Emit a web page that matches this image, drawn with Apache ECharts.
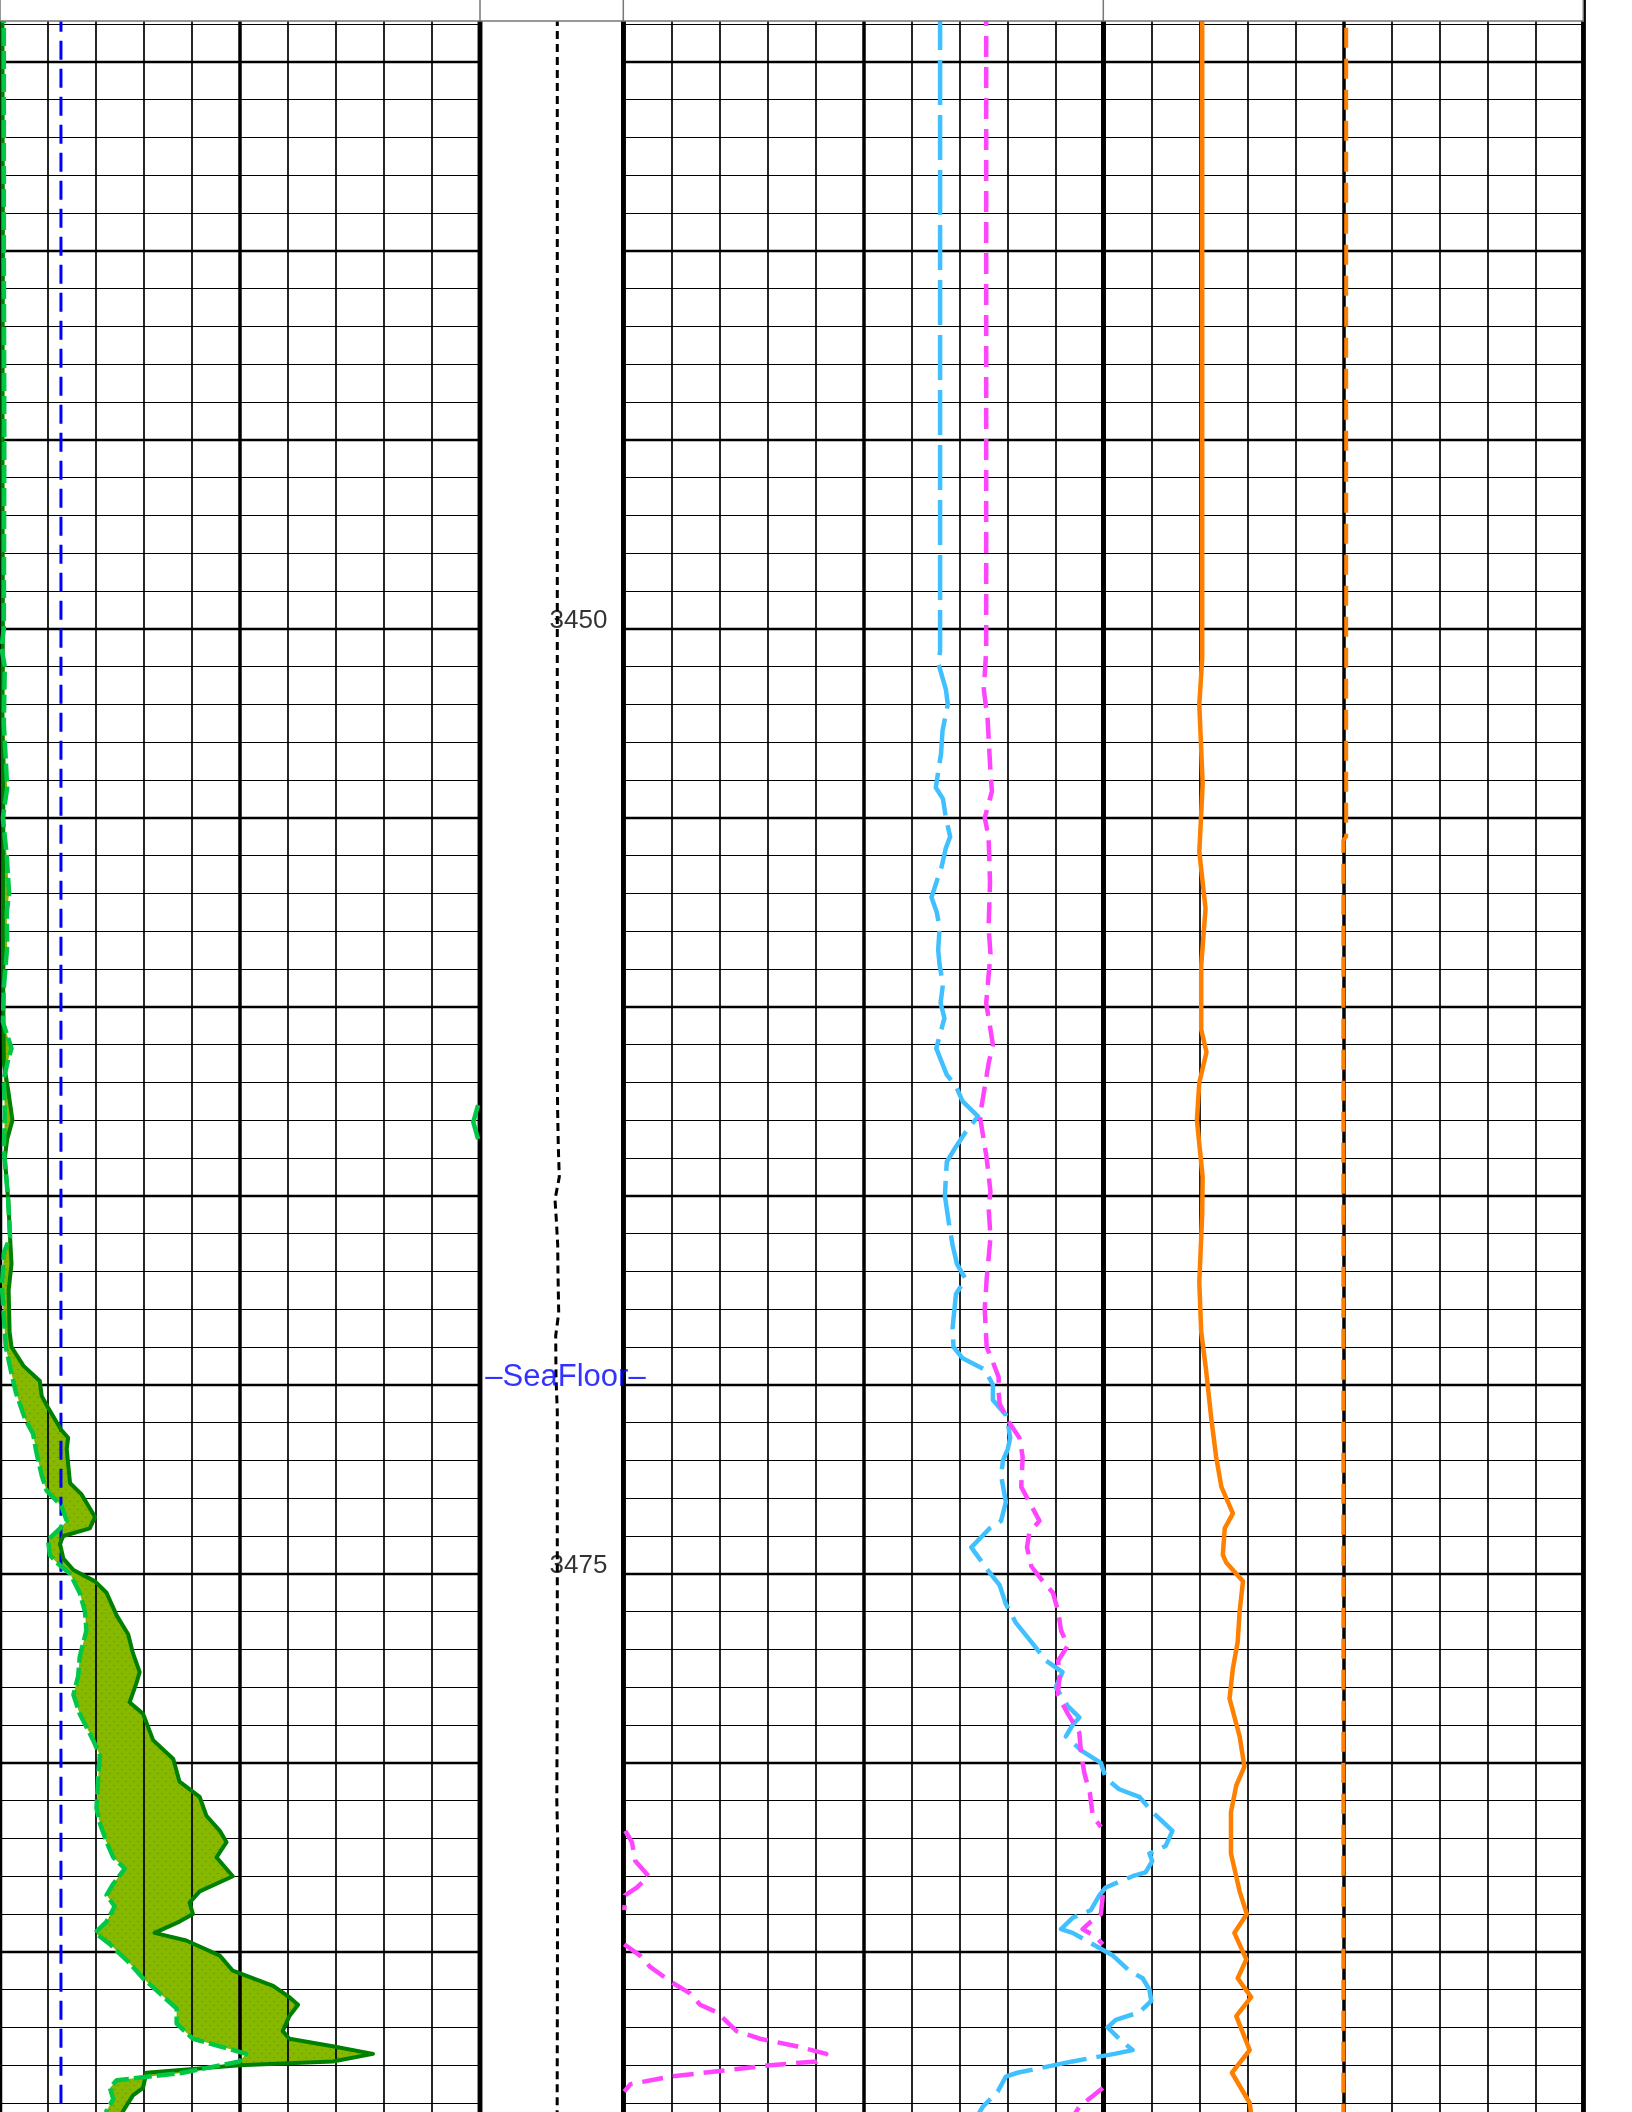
<!DOCTYPE html>
<html><head><meta charset="utf-8">
<style>html,body{margin:0;padding:0;background:#fff;}#chart{width:1632px;height:2112px;}</style>
<script src="https://cdn.jsdelivr.net/npm/echarts@6/dist/echarts.min.js"></script>
</head><body><div id="chart"></div>
<script>
// ---- depth range / labels ----
const DEPTH_MIN = 3430, DEPTH_MAX = 3490;
const depthLabels = [3450, 3475];
const seaFloorDepth = 3469.8;
const seaFloorText = '\u2013SeaFloor\u2013';
const depthHeaderScale = ['10000', '0'];

// ---- track 1 curves: [value, depth] ----
const darkGreenCurve = [[0.05,3433.5],[0.06,3440],[0.05,3445],[0.06,3450],[0.05,3452],[0.07,3455],[0.06,3458],[0.07,3460],[0.08,3461.5],[0.17,3462.2],[0.26,3463.0],[0.15,3463.5],[0.10,3464.0],[0.17,3465.1],[0.21,3466.1],[0.24,3466.8],[0.18,3467.5],[0.20,3468.6],[0.24,3469.0],[0.49,3469.5],[0.83,3469.9],[0.87,3470.3],[1.00,3470.6],[1.28,3471.2],[1.42,3471.4],[1.39,3471.7],[1.42,3472.1],[1.46,3472.6],[1.70,3472.9],[1.98,3473.5],[1.87,3473.8],[1.32,3474.0],[1.25,3474.2],[1.32,3474.6],[1.53,3474.9],[1.98,3475.2],[2.22,3475.5],[2.43,3476.1],[2.67,3476.6],[2.77,3477.1],[2.91,3477.6],[2.84,3477.9],[2.70,3478.4],[2.98,3478.7],[3.19,3479.4],[3.61,3479.9],[3.74,3480.5],[4.16,3480.9],[4.30,3481.4],[4.58,3481.8],[4.72,3482.1],[4.51,3482.5],[4.85,3483.0],[4.16,3483.4],[3.95,3483.7],[4.02,3484.0],[3.74,3484.2],[3.22,3484.5],[3.88,3484.7],[4.58,3485.1],[4.85,3485.5],[5.69,3485.9],[6.03,3486.2],[6.21,3486.4],[6.03,3486.7],[5.89,3487.1],[6.03,3487.3],[6.93,3487.5],[7.77,3487.7],[6.93,3487.9],[4.99,3488.0],[3.05,3488.2],[2.98,3488.6],[2.77,3488.8],[2.57,3489.2],[2.45,3489.5]];
const lightGreenCurve = [[0.08,3433.5],[0.08,3440],[0.09,3445],[0.08,3450],[0.03,3450.5],[0.10,3451],[0.08,3452.5],[0.15,3454.2],[0.06,3455],[0.14,3456],[0.19,3457],[0.14,3457.5],[0.15,3458.4],[0.08,3459.5],[0.06,3460.4],[0.24,3461.1],[0.17,3461.4],[0.08,3461.9],[0.10,3462.8],[0.08,3463.8],[0.17,3465.1],[0.21,3466.1],[0.08,3466.5],[0.04,3467.4],[0.07,3468.0],[0.10,3468.6],[0.12,3469.0],[0.24,3469.7],[0.33,3470.2],[0.52,3470.9],[0.69,3471.3],[0.76,3471.8],[0.87,3472.4],[0.97,3472.8],[1.28,3473.2],[1.39,3473.6],[1.25,3473.8],[1.00,3474.1],[1.04,3474.5],[1.18,3474.7],[1.46,3475.0],[1.66,3475.5],[1.77,3476.0],[1.80,3476.5],[1.66,3477.2],[1.63,3477.7],[1.53,3478.2],[1.66,3478.7],[1.94,3479.4],[2.08,3479.8],[2.05,3480.3],[2.01,3481.2],[2.08,3481.6],[2.22,3482.1],[2.36,3482.5],[2.60,3482.8],[2.36,3483.2],[2.22,3483.5],[2.39,3483.8],[2.22,3484.2],[1.98,3484.5],[2.29,3484.8],[2.70,3485.3],[2.98,3485.7],[3.33,3486.1],[3.68,3486.5],[3.68,3486.9],[4.02,3487.3],[4.58,3487.5],[5.13,3487.7],[4.99,3487.9],[3.81,3488.2],[2.43,3488.4],[2.29,3488.6],[2.36,3488.9],[2.22,3489.2],[2.20,3489.5]];
const lightGreenWrap = [[9.96,3462.6],[9.86,3463.05],[9.96,3463.5]];
const blueCutoff = [[1.27,3430],[1.27,3490]];

// ---- depth track curve (10000 .. 0) ----
const depthTrackCurve = [[4606,3433.5],[4606,3455],[4606,3461.9],[4580,3462.8],[4536,3463.7],[4466,3464.5],[4766,3465.1],[4680,3465.6],[4578,3466.3],[4560,3467.0],[4508,3468.1],[4717,3468.7],[4696,3469.8],[4606,3470.7],[4606,3478],[4640,3481],[4580,3482],[4620,3490]];

// ---- track 3 curves ----
const lightBlueCurve = [[6.60,3433.5],[6.60,3450],[6.60,3450.6],[6.56,3450.9],[6.72,3451.6],[6.76,3452.0],[6.65,3452.7],[6.62,3453.3],[6.51,3454.2],[6.66,3454.5],[6.72,3455.0],[6.81,3455.5],[6.72,3455.8],[6.63,3456.3],[6.42,3457.1],[6.53,3457.5],[6.59,3457.9],[6.56,3458.5],[6.59,3458.9],[6.66,3459.4],[6.61,3459.9],[6.69,3460.3],[6.52,3461.1],[6.74,3461.8],[6.93,3462.1],[7.07,3462.5],[7.39,3462.9],[7.14,3463.3],[6.93,3463.7],[6.74,3464.1],[6.72,3464.5],[6.70,3465.0],[6.78,3465.7],[6.86,3466.3],[6.95,3466.8],[7.13,3467.2],[6.93,3467.6],[6.86,3468.5],[6.88,3469.0],[7.07,3469.3],[7.53,3469.6],[7.70,3470.0],[7.70,3470.4],[7.97,3470.8],[8.01,3471.0],[8.06,3471.4],[8.01,3471.7],[7.91,3472.0],[7.87,3472.4],[7.97,3473.1],[7.87,3473.6],[7.63,3473.8],[7.25,3474.3],[7.42,3474.6],[7.59,3474.9],[7.84,3475.3],[7.97,3475.8],[8.18,3476.3],[8.50,3476.8],[8.81,3477.3],[9.15,3477.6],[9.01,3478.0],[9.26,3478.5],[9.50,3478.8],[9.36,3479.0],[9.22,3479.3],[9.57,3479.7],[9.95,3480.0],[10.05,3480.4],[10.33,3480.7],[10.75,3480.9],[11.02,3481.3],[11.44,3481.8],[11.30,3482.2],[10.96,3482.4],[11.02,3482.6],[10.88,3482.9],[10.61,3483.0],[10.05,3483.3],[9.92,3483.5],[9.74,3483.9],[9.36,3484.1],[9.12,3484.4],[9.36,3484.5],[9.64,3484.7],[10.20,3485.1],[10.54,3485.5],[10.82,3485.7],[10.96,3486.0],[11.00,3486.3],[10.75,3486.6],[10.26,3486.8],[10.09,3487.0],[10.33,3487.3],[10.61,3487.6],[10.23,3487.7],[9.36,3487.9],[8.21,3488.2],[7.97,3488.3],[7.80,3488.7],[7.49,3489.1],[7.30,3489.5]];
const magentaCurve = [[7.56,3433.5],[7.56,3450],[7.56,3450.6],[7.51,3451.6],[7.59,3452.4],[7.65,3453.8],[7.68,3454.3],[7.53,3455.0],[7.61,3455.5],[7.64,3456.7],[7.61,3457.9],[7.65,3458.6],[7.56,3459.9],[7.70,3461.0],[7.61,3461.5],[7.43,3462.9],[7.57,3464.0],[7.65,3464.9],[7.61,3465.3],[7.65,3466.1],[7.57,3467.2],[7.53,3468.0],[7.57,3469.0],[7.70,3469.4],[7.82,3469.8],[7.82,3470.2],[7.84,3470.5],[8.04,3471.0],[8.25,3471.4],[8.32,3471.9],[8.29,3472.7],[8.50,3473.2],[8.67,3473.6],[8.46,3473.9],[8.41,3474.3],[8.50,3474.8],[8.74,3475.2],[8.95,3475.5],[9.06,3476.0],[9.12,3476.5],[9.26,3476.9],[9.06,3477.3],[9.09,3477.7],[9.05,3478.2],[9.26,3478.7],[9.50,3479.2],[9.54,3479.8],[9.61,3480.3],[9.72,3480.8],[9.78,3481.4],[9.95,3481.7],[null,3481.8],[9.99,3483.5],[9.95,3484.0],[9.74,3484.2],[9.57,3484.4],[9.84,3484.6],[9.99,3484.8],[null,3484.9],[9.99,3488.6],[9.50,3489.1],[9.30,3489.5]];
const magentaWrap = [[0.04,3481.8],[0.18,3482.1],[0.25,3482.6],[0.53,3483.0],[0.28,3483.3],[0.04,3483.5],[0.02,3483.9],[null,3484.3],[0.02,3484.8],[0.35,3485.1],[0.56,3485.4],[1.00,3485.8],[1.39,3486.1],[1.60,3486.4],[1.95,3486.6],[2.36,3487.1],[2.85,3487.3],[3.61,3487.5],[4.23,3487.7],[4.03,3487.9],[3.06,3488.0],[0.98,3488.3],[0.15,3488.5],[0.02,3488.7]];

// ---- track 4 curves ----
const orangeCurve = [[2.06,3433.5],[2.06,3449.2],[2.06,3450.8],[2.00,3452.0],[2.07,3454.1],[2.00,3455.9],[2.13,3457.4],[2.04,3458.9],[2.04,3460.6],[2.15,3461.2],[2.00,3462.0],[1.95,3463.0],[2.07,3464.5],[2.06,3465.5],[2.00,3467.3],[2.04,3468.6],[2.14,3469.6],[2.25,3470.9],[2.35,3471.9],[2.46,3472.7],[2.70,3473.4],[2.53,3473.8],[2.49,3474.5],[2.56,3474.7],[2.91,3475.2],[2.84,3476.0],[2.80,3476.8],[2.70,3477.5],[2.63,3478.3],[2.84,3479.3],[2.94,3480.1],[2.77,3480.6],[2.66,3481.3],[2.66,3482.4],[2.84,3483.4],[2.99,3484.0],[2.73,3484.5],[2.98,3485.2],[2.80,3485.7],[3.08,3486.2],[2.77,3486.7],[3.05,3487.6],[2.68,3488.2],[3.05,3489.0],[3.10,3489.5]];
const orangeDashed = [[5.06,3430],[5.06,3455.5],[5.00,3455.6],[5.00,3490]];

// ---- layout ----
const tracks = [
  {left: 0, width: 480, kind: 'grid', xMax: 10},
  {left: 480, width: 143.3, kind: 'depth', xMax: 10000},
  {left: 623.3, width: 480, kind: 'grid', xMax: 10},
  {left: 1103.3, width: 480, kind: 'grid', xMax: 10},
  {left: 623.3, width: 960, kind: 'overlay', xMax: 20}   // track 3 scale continued over track 4 (no wrap)
];
const PX_PER_UNIT = 37.8, Y_3450 = 628.8;
const gridTop = Y_3450 - (3450 - DEPTH_MIN) * PX_PER_UNIT;
const gridHeight = (DEPTH_MAX - DEPTH_MIN) * PX_PER_UNIT;
const FONT = '"Liberation Sans", Arial, Helvetica, sans-serif';

const grid = [], xAxis = [], yAxis = [], axisIdx = [];
const hidden = {axisLine: {show: false}, axisTick: {show: false}, axisLabel: {show: false}};
tracks.forEach((t, i) => {
  grid.push({left: t.left, top: gridTop, width: t.width, height: gridHeight, show: t.kind !== 'overlay',
    containLabel: false, outerBoundsMode: 'none',
    borderColor: '#000', borderWidth: 4.5, backgroundColor: 'rgba(0,0,0,0)', z: 0});
  axisIdx[i] = xAxis.length;
  if (t.kind === 'grid') {
    xAxis.push(Object.assign({}, hidden, {gridIndex: i, type: 'value', min: 0, max: t.xMax, interval: 1, z: 3,
      splitLine: {show: true, lineStyle: {color: '#000', width: 1.7}}}));
    xAxis.push(Object.assign({}, hidden, {gridIndex: i, type: 'value', min: 0, max: t.xMax, interval: 5, z: 3,
      splitLine: {show: true, lineStyle: {color: '#000', width: 3.5}}}));
    yAxis.push(Object.assign({}, hidden, {gridIndex: i, type: 'value', inverse: true, min: DEPTH_MIN, max: DEPTH_MAX, interval: 1, z: 0,
      splitLine: {show: true, lineStyle: {color: '#000', width: 1.1}}}));
    yAxis.push(Object.assign({}, hidden, {gridIndex: i, type: 'value', inverse: true, min: DEPTH_MIN, max: DEPTH_MAX, interval: 5, z: 0,
      splitLine: {show: true, lineStyle: {color: '#000', width: 2.4}}}));
  } else {
    xAxis.push(Object.assign({}, hidden, {gridIndex: i, type: 'value', min: 0, max: t.xMax, inverse: t.kind === 'depth', splitLine: {show: false}}));
    yAxis.push(Object.assign({}, hidden, {gridIndex: i, type: 'value', inverse: true, min: DEPTH_MIN, max: DEPTH_MAX, splitLine: {show: false}}));
  }
});

function prep(data) { return data.map(p => p[0] == null ? ['-', p[1]] : p); }
function curve(track, data, color, width, dash, opts) {
  return Object.assign({
    type: 'line', xAxisIndex: axisIdx[track], yAxisIndex: axisIdx[track], data: prep(data),
    showSymbol: false, symbol: 'none', connectNulls: false, silent: true, animation: false, z: 5,
    lineStyle: {color: color, width: width, type: dash || 'solid', cap: 'butt', join: 'round'}
  }, opts || {});
}

// fill pattern
const pat = document.createElement('canvas');
pat.width = 8; pat.height = 8;
const pctx = pat.getContext('2d');
pctx.fillStyle = '#86b800'; pctx.fillRect(0, 0, 8, 8);
pctx.fillStyle = '#4a8fb8'; pctx.fillRect(1, 1, 2, 1); pctx.fillRect(5, 5, 2, 1);

const series = [
  {
    type: 'custom', xAxisIndex: axisIdx[0], yAxisIndex: axisIdx[0], z: 1, silent: true, animation: false,
    data: [[0, 3450]],
    renderItem: function (params, api) {
      const pts = darkGreenCurve.map(p => api.coord(p)).concat(lightGreenCurve.slice().reverse().map(p => api.coord(p)));
      return {type: 'polygon', shape: {points: pts}, style: {fill: {image: pat, repeat: 'repeat'}, stroke: null}};
    }
  },
  curve(0, blueCutoff, '#0000ff', 3, [19, 9]),
  curve(0, darkGreenCurve, '#008000', 4, 'solid', {z: 6}),
  curve(0, lightGreenCurve, '#00c846', 4.5, [18, 5], {z: 7}),
  curve(0, lightGreenWrap, '#00c846', 4.5, 'solid', {z: 7, clip: false}),
  curve(1, depthTrackCurve, '#000', 3, [8, 5]),
  curve(4, lightBlueCurve, '#40c0ff', 4.5, [45, 10]),
  curve(2, magentaCurve, '#ff44ff', 4.5, [21, 10]),
  curve(2, magentaWrap, '#ff44ff', 4.5, [21, 10]),
  curve(3, orangeDashed, '#ff8000', 4, [20, 11]),
  curve(3, orangeCurve, '#ff8000', 4.5, 'solid'),
  {
    type: 'scatter', xAxisIndex: axisIdx[1], yAxisIndex: axisIdx[1], z: 8, silent: true, animation: false,
    symbolSize: 1, itemStyle: {color: 'rgba(0,0,0,0)'},
    data: depthLabels.map(d => [5185, d]),
    label: {show: true, position: 'right', distance: 0, offset: [0, -8], color: '#000', fontSize: 26, fontFamily: FONT,
      formatter: p => String(p.value[1])}
  },
  {
    type: 'scatter', xAxisIndex: axisIdx[1], yAxisIndex: axisIdx[1], z: 8, silent: true, animation: false,
    symbolSize: 1, itemStyle: {color: 'rgba(0,0,0,0)'},
    data: [[4033, seaFloorDepth]],
    label: {show: true, position: 'inside', color: '#0000ff', fontSize: 31, fontFamily: FONT, formatter: seaFloorText}
  }
];

const headerY = 21;
const graphic = [
  {type: 'rect', z: 100, shape: {x: 0, y: -10, width: 1583.3, height: headerY + 10}, style: {fill: '#fff', stroke: '#777', lineWidth: 1.5}},
  {type: 'line', z: 101, shape: {x1: 480, y1: -10, x2: 480, y2: headerY}, style: {stroke: '#777', lineWidth: 1.5}},
  {type: 'line', z: 101, shape: {x1: 623.3, y1: -10, x2: 623.3, y2: headerY}, style: {stroke: '#777', lineWidth: 1.5}},
  {type: 'line', z: 101, shape: {x1: 1103.3, y1: -10, x2: 1103.3, y2: headerY}, style: {stroke: '#777', lineWidth: 1.5}},
  {type: 'text', z: 102, x: 486, y: -6.5, style: {text: depthHeaderScale[0], fill: '#000', font: '23px ' + FONT, align: 'left', verticalAlign: 'middle'}},
  {type: 'text', z: 102, x: 616, y: -6.5, style: {text: depthHeaderScale[1], fill: '#000', font: '23px ' + FONT, align: 'right', verticalAlign: 'middle'}}
];

const chart = echarts.init(document.getElementById('chart'), null, {renderer: 'canvas', width: 1632, height: 2112});
chart.setOption({animation: false, backgroundColor: '#fff', grid, xAxis, yAxis, series, graphic});
</script></body></html>
